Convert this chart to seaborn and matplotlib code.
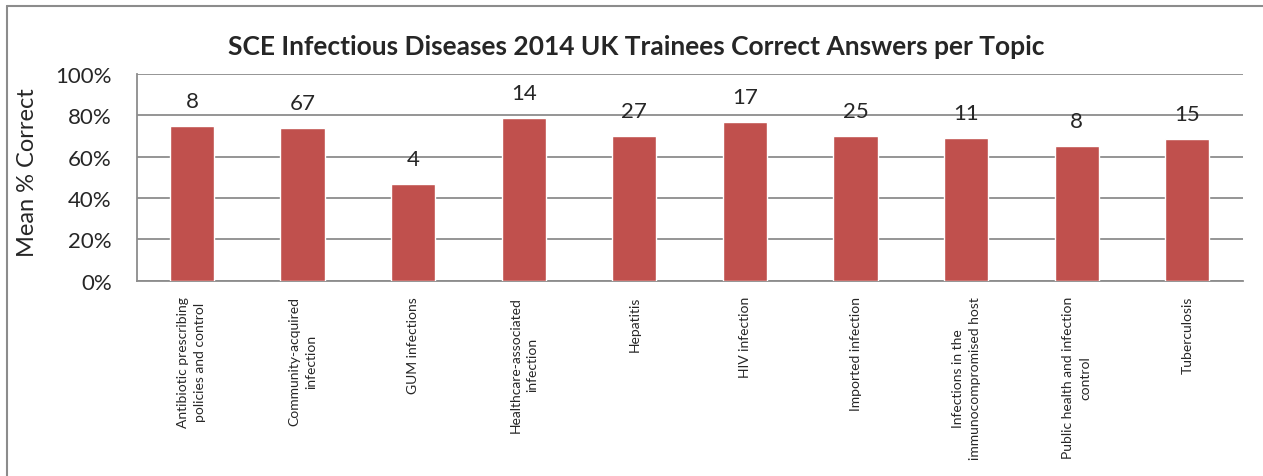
import numpy as np
import pandas as pd
import matplotlib
matplotlib.use("Agg")
import matplotlib.pyplot as plt
import seaborn as sns
from matplotlib.lines import Line2D
from matplotlib.ticker import PercentFormatter, FixedLocator

# Konular, ortalama dogru yuzdesi ve soru sayilari
topics = [
    "Antibiotic prescribing\npolicies and control",
    "Community-acquired\ninfection",
    "GUM infections",
    "Healthcare-associated\ninfection",
    "Hepatitis",
    "HIV infection",
    "Imported infection",
    "Infections in the\nimmunocompromised host",
    "Public health and infection\ncontrol",
    "Tuberculosis",
]
mean_correct = [74.8, 73.9, 46.6, 78.6, 70.1, 76.7, 69.9, 69.1, 65.4, 68.5]
n_questions = [8, 67, 4, 14, 27, 17, 25, 11, 8, 15]

df = pd.DataFrame({"Topic": topics, "Mean": mean_correct, "N": n_questions})

sns.set_style("white")
plt.rcParams["font.family"] = ["Lato", "DejaVu Sans"]

grid_col = "#8C8C8C"

fig = plt.figure(figsize=(12.63, 4.77), dpi=100)
ax = fig.add_axes([0.1082, 0.4094, 0.8757, 0.4334])

sns.barplot(data=df, x="Topic", y="Mean", color="#C0504D", width=0.40,
            saturation=1, ax=ax, zorder=3)

ax.set_ylim(0, 100)
ax.set_xlim(-0.5, len(topics) - 0.5)
ax.set_yticks(np.arange(0, 101, 20))
ax.yaxis.set_major_formatter(PercentFormatter(decimals=0))
ax.grid(axis="y", color=grid_col, linewidth=1.3, zorder=0)
ax.set_axisbelow(True)

for s in ["top", "right"]:
    ax.spines[s].set_visible(False)
for s in ["left", "bottom"]:
    ax.spines[s].set_color(grid_col)
    ax.spines[s].set_linewidth(1.3)

# kategori sinirlarinda tick
ax.xaxis.set_major_locator(FixedLocator(np.arange(len(topics))))
ax.set_xticklabels(topics, rotation=90, fontsize=10,
                   ha="center", va="top", multialignment="center",
                   linespacing=1.5)
ax.tick_params(axis="x", length=0, pad=11)
ax.set_xticks(np.arange(-0.5, len(topics)), minor=True)
ax.tick_params(axis="x", which="minor", length=5, color=grid_col, width=1.3)
ax.tick_params(axis="y", length=6, color=grid_col, width=1.3, labelsize=16, pad=12)

ax.set_xlabel("")
ax.set_ylabel("Mean % Correct", fontsize=17)
ax.yaxis.set_label_coords(-0.089, 0.53)

# soru sayisi etiketleri
for i, (v, n) in enumerate(zip(mean_correct, n_questions)):
    ax.text(i, v + 7.2, str(n), ha="center", va="bottom", fontsize=16)

fig.text(0.504, 1 - 55 / 477,
         "SCE Infectious Diseases 2014 UK Trainees Correct Answers per Topic",
         fontsize=19, fontweight="bold", ha="center", va="baseline")

# grafik cercevesi
fig.add_artist(Line2D([7 / 1263, 7 / 1263], [0, 1 - 7 / 477],
                      transform=fig.transFigure, color=grid_col, linewidth=1.5))
fig.add_artist(Line2D([7 / 1263, 1], [1 - 7 / 477, 1 - 7 / 477],
                      transform=fig.transFigure, color=grid_col, linewidth=1.5))

fig.savefig("out.png", dpi=100)
